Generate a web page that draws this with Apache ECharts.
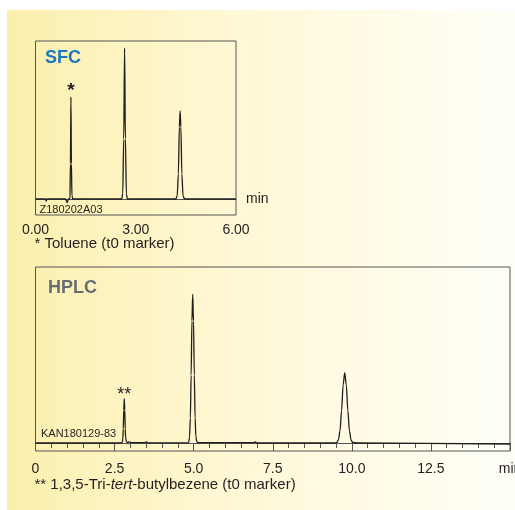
<!DOCTYPE html>
<html>
<head>
<meta charset="utf-8">
<script src="https://cdn.jsdelivr.net/npm/echarts@6/dist/echarts.min.js"></script>
<style>
html,body{margin:0;padding:0;background:#fff;}
#c{width:515px;height:510px;}
</style>
</head>
<body>
<div id="c"></div>
<script>
// ---- data ----
// SFC chromatogram: [time (min), signal (arb.)]
const sfcTrace = [[0,0],[0.30,0],[0.32,-2],[0.34,0],[0.90,0],[0.946,-3.5],[0.99,0],[1.03,0],[1.045,35],[1.06,102],[1.075,35],[1.09,3],[1.12,0],
  [2.58,0],[2.61,5],[2.64,60],[2.666,151],[2.69,60],[2.72,5],[2.75,0],
  [4.20,0],[4.24,3],[4.275,25],[4.305,72],[4.328,88],[4.35,72],[4.38,25],[4.415,3],[4.46,0],[6,0]];
// HPLC chromatogram: [time (min), signal (arb.)]
const hplcTrace = [[0,0],[2.72,0],[2.74,0.5],[2.76,4],[2.775,14],[2.79,33],[2.807,44.4],[2.822,33],[2.837,14],[2.85,5],[2.87,1.5],[2.9,0.5],[2.97,1.2],[3.03,0.3],
  [3.46,0.3],[3.5,1],[3.55,0.2],
  [4.82,0.2],[4.845,1],[4.87,6],[4.895,25],[4.92,68],[4.945,122],[4.97,148.7],[4.995,122],[5.02,68],[5.045,25],[5.07,6.5],[5.095,1.5],[5.13,0.5],[5.2,0.3],
  [6.9,0.3],[6.95,1],[7.0,0],
  [9.48,0],[9.525,0.5],[9.575,3],[9.625,12],[9.675,32],[9.725,58],[9.775,70.4],[9.825,58],[9.875,32],[9.925,12],[9.975,3],[10.025,0.5],[10.2,0],[15,-1]];
// tick labels
const sfcTickLabels = ['0.00','3.00','6.00'];
const hplcTickLabels = ['0','2.5','5.0','7.5','10.0','12.5','min'];
// peak markers [time, height, label]
const sfcMarkers = [[1.06,102,'*']];
const hplcMarkers = [[2.807,44.4,'**']];
// texts
const sfcTitle = 'SFC';
const hplcTitle = 'HPLC';
const sfcSample = 'Z180202A03';
const hplcSample = 'KAN180129-83';
const sfcNote = '* Toluene (t0 marker)';
const hplcNote = '** 1,3,5-Tri-{i|tert}-butylbezene (t0 marker)';

const FONT = '"Liberation Sans", Arial, Helvetica, sans-serif';
const TXT = '#231f20';
const BOX = '#555';

const chart = echarts.init(document.getElementById('c'), null, {renderer:'canvas'});

function markerData(list){
  return list.map(m => ({coord:[m[0], m[1]], value:m[2]}));
}

const option = {
  animation:false,
  backgroundColor:'#ffffff',
  graphic:[
    {type:'rect', z:-10, shape:{x:7, y:10, width:508, height:500},
     style:{fill:new echarts.graphic.LinearGradient(0,0,1,0,[
       {offset:0,color:'#fbefad'},{offset:0.45,color:'#fff8d6'},{offset:1,color:'#fffff8'}])}},
    {type:'text', x:45, y:58, style:{text:sfcTitle, fill:'#1b78c2', font:'bold 18px '+FONT, textVerticalAlign:'middle', verticalAlign:'middle'}},
    {type:'text', x:48, y:288.5, style:{text:hplcTitle, fill:'#686c74', font:'bold 18px '+FONT, textVerticalAlign:'middle', verticalAlign:'middle'}},
    {type:'text', x:39.5, y:209.5, style:{text:sfcSample, fill:TXT, font:'11px '+FONT, textVerticalAlign:'middle', verticalAlign:'middle'}},
    {type:'text', x:41, y:433.5, style:{text:hplcSample, fill:TXT, font:'11px '+FONT, textVerticalAlign:'middle', verticalAlign:'middle'}},
    {type:'text', x:34.5, y:243.5, style:{text:sfcNote, fill:TXT, font:'15px '+FONT, textVerticalAlign:'middle', verticalAlign:'middle'}},
    {type:'text', x:34.5, y:485, style:{text:hplcNote, fill:TXT, fontSize:15, fontFamily:FONT, textVerticalAlign:'middle', verticalAlign:'middle',
      rich:{i:{fontStyle:'italic', fontSize:15, fontFamily:FONT, fill:TXT, color:TXT}}}}
  ],
  grid:[
    {left:35.5, top:41, width:200.5, height:174, show:true, borderColor:BOX, borderWidth:1, backgroundColor:'transparent', containLabel:false, outerBoundsMode:'none'},
    {left:35.5, top:267, width:474.5, height:184, show:true, borderColor:BOX, borderWidth:1, backgroundColor:'transparent', containLabel:false, outerBoundsMode:'none'}
  ],
  xAxis:[
    {type:'value', gridIndex:0, min:0, max:6, interval:3,
     name:'min', nameLocation:'end', nameGap:10,
     nameTextStyle:{fontFamily:FONT, fontSize:14, color:TXT, verticalAlign:'middle'},
     axisLine:{show:true, lineStyle:{color:BOX, width:1}}, axisTick:{show:false}, splitLine:{show:false},
     axisLabel:{margin:8, fontFamily:FONT, fontSize:14, color:TXT, formatter:v=>sfcTickLabels[Math.round(v/3)]}},
    {type:'value', gridIndex:1, min:0, max:15, interval:2.5,
     axisLine:{show:true, lineStyle:{color:BOX, width:1}},
     axisTick:{show:true, length:8, inside:false, lineStyle:{color:BOX}},
     minorTick:{show:true, splitNumber:5, length:5, lineStyle:{color:BOX}},
     splitLine:{show:false}, minorSplitLine:{show:false},
     axisLabel:{margin:11, fontFamily:FONT, fontSize:14, color:TXT, formatter:v=>hplcTickLabels[Math.round(v/2.5)]}}
  ],
  yAxis:[
    {type:'value', gridIndex:0, min:-16, max:158, show:false, splitLine:{show:false}},
    {type:'value', gridIndex:1, min:-8, max:176, show:false, splitLine:{show:false}}
  ],
  series:[
    {type:'line', xAxisIndex:0, yAxisIndex:0, data:sfcTrace, showSymbol:false, smooth:0.3, smoothMonotone:'x',
     lineStyle:{color:'#1e1e1e', width:1.3},
     markPoint:{symbol:'circle', symbolSize:0, data:markerData(sfcMarkers),
       label:{show:true, position:'top', distance:-3, formatter:p=>p.value, fontFamily:FONT, fontSize:19, fontWeight:'bold', color:TXT}}},
    {type:'line', xAxisIndex:1, yAxisIndex:1, data:hplcTrace, showSymbol:false, smooth:0.3, smoothMonotone:'x',
     lineStyle:{color:'#1e1e1e', width:1.3},
     markPoint:{symbol:'circle', symbolSize:0, data:markerData(hplcMarkers),
       label:{show:true, position:'top', distance:-5, formatter:p=>p.value, fontFamily:FONT, fontSize:18, color:TXT}}}
  ]
};
chart.setOption(option);
</script>
</body>
</html>
